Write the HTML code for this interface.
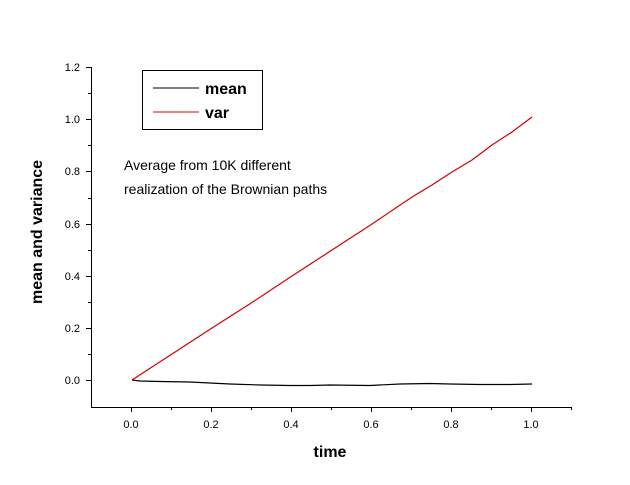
<!DOCTYPE html>
<html><head><style>
body{margin:0;background:#fff}
svg text{font-family:"Liberation Sans",Arial,sans-serif}
</style></head><body>
<svg width="630" height="480" xmlns="http://www.w3.org/2000/svg">
<rect width="630" height="480" fill="#fff"/>
<g stroke="#000" stroke-width="1" fill="none" shape-rendering="crispEdges">
<line x1="91.5" y1="67" x2="91.5" y2="407"/>
<line x1="91" y1="407.5" x2="572" y2="407.5"/>
<line x1="86" y1="67.5" x2="91" y2="67.5"/>
<line x1="86" y1="119.5" x2="91" y2="119.5"/>
<line x1="86" y1="171.5" x2="91" y2="171.5"/>
<line x1="86" y1="224.5" x2="91" y2="224.5"/>
<line x1="86" y1="276.5" x2="91" y2="276.5"/>
<line x1="86" y1="328.5" x2="91" y2="328.5"/>
<line x1="86" y1="380.5" x2="91" y2="380.5"/>
<line x1="88" y1="93.5" x2="91" y2="93.5"/>
<line x1="88" y1="145.5" x2="91" y2="145.5"/>
<line x1="88" y1="198.5" x2="91" y2="198.5"/>
<line x1="88" y1="250.5" x2="91" y2="250.5"/>
<line x1="88" y1="302.5" x2="91" y2="302.5"/>
<line x1="88" y1="354.5" x2="91" y2="354.5"/>
<line x1="131.5" y1="407" x2="131.5" y2="412"/>
<line x1="211.5" y1="407" x2="211.5" y2="412"/>
<line x1="291.5" y1="407" x2="291.5" y2="412"/>
<line x1="371.5" y1="407" x2="371.5" y2="412"/>
<line x1="451.5" y1="407" x2="451.5" y2="412"/>
<line x1="531.5" y1="407" x2="531.5" y2="412"/>
<line x1="171.5" y1="407" x2="171.5" y2="410"/>
<line x1="251.5" y1="407" x2="251.5" y2="410"/>
<line x1="331.5" y1="407" x2="331.5" y2="410"/>
<line x1="411.5" y1="407" x2="411.5" y2="410"/>
<line x1="491.5" y1="407" x2="491.5" y2="410"/>
<line x1="571.5" y1="407" x2="571.5" y2="410"/>
<rect x="142.5" y="70.5" width="120" height="59"/>
</g>
<g font-size="11" fill="#000" text-anchor="end">
<text x="80" y="71">1.2</text>
<text x="80" y="123">1.0</text>
<text x="80" y="175">0.8</text>
<text x="80" y="228">0.6</text>
<text x="80" y="280">0.4</text>
<text x="80" y="332">0.2</text>
<text x="80" y="384">0.0</text>
</g>
<g font-size="11" fill="#000" text-anchor="middle">
<text x="131" y="428">0.0</text>
<text x="211" y="428">0.2</text>
<text x="291" y="428">0.4</text>
<text x="371" y="428">0.6</text>
<text x="451" y="428">0.8</text>
<text x="531" y="428">1.0</text>
</g>
<text x="330" y="457" font-size="16" font-weight="bold" text-anchor="middle">time</text>
<text transform="translate(42,232) rotate(-90)" font-size="16" font-weight="bold" text-anchor="middle">mean and variance</text>
<line x1="153" y1="88" x2="199" y2="88" stroke="#000"/>
<line x1="153" y1="112" x2="199" y2="112" stroke="#d00000"/>
<text x="205" y="94" font-size="16" font-weight="bold">mean</text>
<text x="205" y="118" font-size="16" font-weight="bold">var</text>
<text x="124" y="170" font-size="14">Average from 10K different</text>
<text x="124" y="194" font-size="14">realization of the Brownian paths</text>
<polyline fill="none" stroke="#000" stroke-width="1.2" points="132,380 140,381 160,381.5 190,382 210,383 230,384 260,385 290,385.5 310,385.5 330,385 370,385.5 400,384 430,383.5 450,384 480,384.5 510,384.5 532,384"/>
<polyline fill="none" stroke="#d00000" stroke-width="1.2" points="132,380 172,354 212,328 252,302.5 292,276 332,250 372,224 412,197 432,185 452,172 472,160 492,145 512,132 532,117"/>
</svg>
</body></html>
